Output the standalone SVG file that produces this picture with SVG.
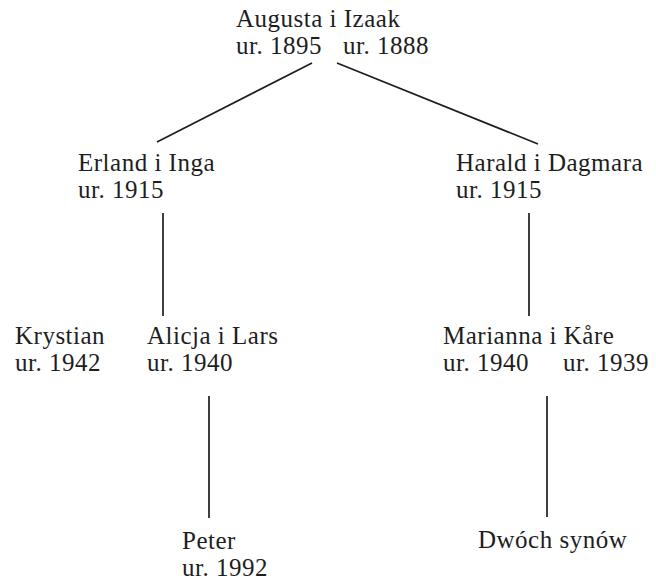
<svg xmlns="http://www.w3.org/2000/svg" width="656" height="586" viewBox="0 0 656 586">
<style>
text{font-family:"Liberation Serif","DejaVu Serif",serif;font-size:25px;fill:#1e1e1e;letter-spacing:0.5px}
.c line{stroke:#1e1e1e;stroke-width:1.7}
</style>
<rect width="656" height="586" fill="#ffffff"/>
<g id="connectors" class="c">
<line x1="312" y1="63" x2="157" y2="142"/>
<line x1="337" y1="63" x2="538" y2="144"/>
<line x1="163" y1="213" x2="163" y2="316"/>
<line x1="529" y1="213" x2="529" y2="316"/>
<line x1="209" y1="396" x2="209" y2="518"/>
<line x1="547" y1="396" x2="547" y2="517"/>
</g>
<g id="augusta-izaak">
<text x="236" y="27">Augusta i Izaak</text>
<text x="236" y="54">ur. 1895</text>
<text x="343" y="54">ur. 1888</text>
</g>
<g id="erland-inga">
<text x="78" y="171">Erland i Inga</text>
<text x="78" y="198">ur. 1915</text>
</g>
<g id="harald-dagmara">
<text x="456" y="171">Harald i Dagmara</text>
<text x="456" y="198">ur. 1915</text>
</g>
<g id="krystian">
<text x="15" y="344">Krystian</text>
<text x="15" y="371">ur. 1942</text>
</g>
<g id="alicja-lars">
<text x="147" y="344">Alicja i Lars</text>
<text x="147" y="371">ur. 1940</text>
</g>
<g id="marianna-kare">
<text x="443" y="344">Marianna i Kåre</text>
<text x="443" y="371">ur. 1940</text>
<text x="563" y="371">ur. 1939</text>
</g>
<g id="peter">
<text x="182" y="549">Peter</text>
<text x="182" y="576">ur. 1992</text>
</g>
<g id="dwoch-synow">
<text x="478" y="548">Dwóch synów</text>
</g>
</svg>
